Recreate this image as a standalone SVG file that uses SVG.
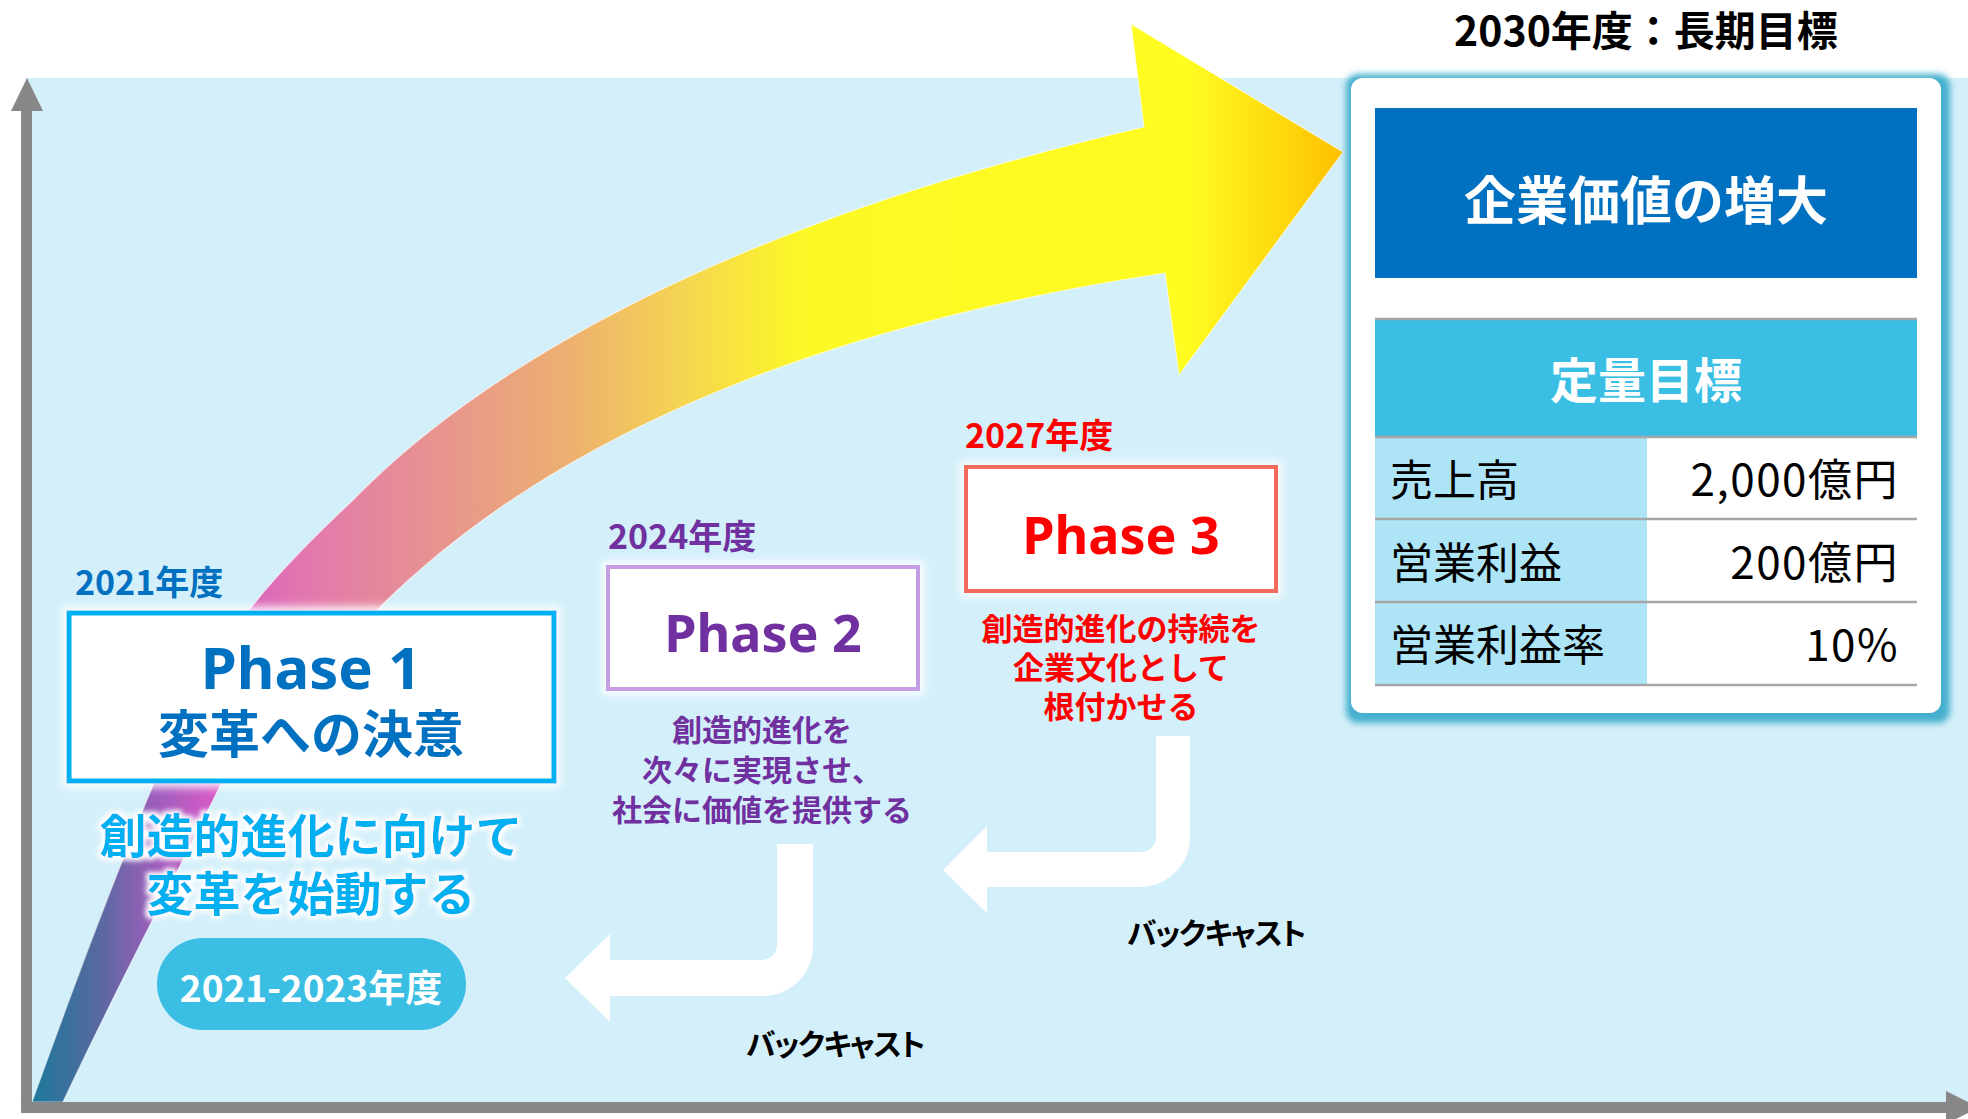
<svg xmlns="http://www.w3.org/2000/svg" width="1968" height="1119" viewBox="0 0 1968 1119">
<defs>
<style>
.jp{font-family:"Noto Sans CJK JP","Noto Sans",sans-serif}
.en{font-family:"Noto Sans","Open Sans",sans-serif;font-weight:700}
.b{font-weight:700}
.mid{text-anchor:middle}
.end{text-anchor:end}
.axis{fill:#878787}
.bent{fill:#ffffff}
.grid{stroke:#A6A6A6;stroke-width:2.5}
.td{font-size:43px;fill:#000}
.tv{font-size:44px;fill:#000;letter-spacing:1.5px}
.bc{font-size:30px;fill:#000;font-weight:700;font-feature-settings:"palt";letter-spacing:-1.5px}
</style>
<linearGradient id="grad" gradientUnits="userSpaceOnUse" x1="30" y1="0" x2="1344" y2="0">
<stop offset="0" stop-color="#1A7A9B"/>
<stop offset="0.05" stop-color="#55699F"/>
<stop offset="0.095" stop-color="#9C5EBB"/>
<stop offset="0.14" stop-color="#D65AC8"/>
<stop offset="0.21" stop-color="#E278AE"/>
<stop offset="0.32" stop-color="#E8968C"/>
<stop offset="0.41" stop-color="#EDB070"/>
<stop offset="0.5" stop-color="#F5D650"/>
<stop offset="0.59" stop-color="#FCF826"/>
<stop offset="0.88" stop-color="#FFFC20"/>
<stop offset="1" stop-color="#FDC000"/>
</linearGradient>
<filter id="glowW" x="-20%" y="-30%" width="140%" height="160%">
<feMorphology in="SourceAlpha" operator="dilate" radius="3" result="d"/>
<feGaussianBlur in="d" stdDeviation="2.5" result="bl"/>
<feFlood flood-color="#ffffff"/>
<feComposite in2="bl" operator="in" result="g"/>
<feMerge><feMergeNode in="g"/><feMergeNode in="SourceGraphic"/></feMerge>
</filter>
<filter id="boxGlow" x="-10%" y="-20%" width="120%" height="140%">
<feMorphology in="SourceAlpha" operator="dilate" radius="4" result="d"/>
<feGaussianBlur in="d" stdDeviation="4" result="bl"/>
<feFlood flood-color="#ffffff" flood-opacity="0.9"/>
<feComposite in2="bl" operator="in" result="g"/>
<feMerge><feMergeNode in="g"/><feMergeNode in="SourceGraphic"/></feMerge>
</filter>
<filter id="panelGlow" x="-10%" y="-10%" width="120%" height="120%">
<feMorphology in="SourceAlpha" operator="dilate" radius="7" result="d"/>
<feOffset in="d" dx="2" dy="3" result="o"/>
<feGaussianBlur in="o" stdDeviation="3" result="bl"/>
<feFlood flood-color="#45B0CE"/>
<feComposite in2="bl" operator="in" result="g"/>
<feMerge><feMergeNode in="g"/><feMergeNode in="SourceGraphic"/></feMerge>
</filter>
</defs>

<rect x="0" y="0" width="1968" height="1119" fill="#ffffff"/>
<rect id="plot-bg" x="27" y="78" width="1941" height="1029" fill="#D3EFF9"/>

<g id="growth-arrow">
<path d="M32,1102 C58,1030 140,800 203,675 C250,600 300,550 353,500 C470,380 700,230 1144,127 L1131,24 L1343,152 L1179,375 L1165,273 C888,315 584,407 384,603 C300,690 260,730 241,743 C200,830 130,960 63,1102 Z" fill="url(#grad)" stroke="#ffffff" stroke-opacity="0.6" stroke-width="1.2"/>
</g>

<g id="axes">
<rect class="axis" x="21" y="108" width="11" height="1005"/>
<polygon class="axis" points="27,78 43,111 11,111"/>
<rect class="axis" x="21" y="1102" width="1928" height="11" rx="3"/>
<polygon class="axis" points="1946,1091 1946,1124 1979,1107.5"/>
</g>

<g id="connectors">
<path id="backcast-3-2" class="bent" d="M1156,736 H1190 V837 A50,50 0 0 1 1140,887 H987 V913 L943,870 L987,826 V852 H1141 A15,15 0 0 0 1156,837 Z"/>
<path id="backcast-2-1" class="bent" d="M777,844 H813 V946 A50,50 0 0 1 763,996 H610 V1022 L565,978 L610,934 V960 H762 A15,15 0 0 0 777,945 Z"/>
</g>

<g id="label-backcast-a">
<text class="jp bc" x="1127" y="944">バックキャスト</text>
</g>
<g id="label-backcast-b">
<text class="jp bc" x="746" y="1055">バックキャスト</text>
</g>

<g id="phase1">
<text class="jp b" x="75" y="595" font-size="34" fill="#0070C0">2021年度</text>
<rect x="69" y="613" width="485" height="168" fill="#ffffff" stroke="#00B0F0" stroke-width="5" filter="url(#boxGlow)"/>
<text class="en mid" x="311" y="689" font-size="58" fill="#0070C0">Phase 1</text>
<text class="jp b mid" x="311" y="753" font-size="51" fill="#0070C0">変革への決意</text>
<g filter="url(#glowW)">
<text class="jp b mid" x="311" y="853" font-size="47" fill="#00B0F0">創造的進化に向けて</text>
<text class="jp b mid" x="311" y="911" font-size="47" fill="#00B0F0">変革を始動する</text>
</g>
<rect x="157" y="938" width="309" height="92" rx="46" fill="#3BBEE3"/>
<text class="jp b mid" x="311" y="1002" font-size="37" fill="#ffffff">2021-2023年度</text>
</g>

<g id="phase2">
<text class="jp b" x="608" y="549" font-size="34" fill="#7030A0">2024年度</text>
<rect x="608" y="567" width="310" height="122" fill="#ffffff" stroke="#C59DE2" stroke-width="4" filter="url(#boxGlow)"/>
<text class="en mid" x="763" y="652" font-size="52" fill="#7030A0">Phase 2</text>
<text class="jp b mid" x="762" y="741" font-size="30" fill="#7030A0">創造的進化を</text>
<text class="jp b mid" x="762" y="781" font-size="30" fill="#7030A0">次々に実現させ、</text>
<text class="jp b mid" x="762" y="821" font-size="30" fill="#7030A0">社会に価値を提供する</text>
</g>

<g id="phase3">
<text class="jp b" x="965" y="448" font-size="34" fill="#FF0000">2027年度</text>
<rect x="966" y="467" width="310" height="124" fill="#ffffff" stroke="#F26A5B" stroke-width="4" filter="url(#boxGlow)"/>
<text class="en mid" x="1121" y="554" font-size="52" fill="#FF0000">Phase 3</text>
<text class="jp b mid" x="1121" y="640" font-size="31" fill="#FF0000">創造的進化の持続を</text>
<text class="jp b mid" x="1121" y="679" font-size="31" fill="#FF0000">企業文化として</text>
<text class="jp b mid" x="1121" y="718" font-size="31" fill="#FF0000">根付かせる</text>
</g>

<g id="goal2030">
<text class="jp b mid" x="1646" y="46" font-size="41" fill="#000000">2030年度：長期目標</text>
<rect x="1351" y="78" width="590" height="635" rx="12" fill="#ffffff" filter="url(#panelGlow)"/>
<rect x="1375" y="108" width="542" height="170" fill="#0070C0"/>
<text class="jp b mid" x="1646" y="220" font-size="52" fill="#ffffff">企業価値の増大</text>
<rect x="1375" y="318" width="542" height="119" fill="#3BBEE3"/>
<line class="grid" x1="1375" y1="319" x2="1917" y2="319"/>
<text class="jp b mid" x="1646" y="398" font-size="48" fill="#ffffff">定量目標</text>
<rect x="1375" y="437" width="272" height="248" fill="#AEE5F6"/>
<line class="grid" x1="1375" y1="437" x2="1917" y2="437"/>
<line class="grid" x1="1375" y1="519" x2="1917" y2="519"/>
<line class="grid" x1="1375" y1="602" x2="1917" y2="602"/>
<line class="grid" x1="1375" y1="685" x2="1917" y2="685"/>
<text class="jp td" x="1390" y="496">売上高</text>
<text class="jp tv end" x="1899" y="496">2,000億円</text>
<text class="jp td" x="1390" y="579">営業利益</text>
<text class="jp tv end" x="1899" y="579">200億円</text>
<text class="jp td" x="1390" y="661">営業利益率</text>
<text class="jp tv end" x="1899" y="661">10%</text>
</g>
</svg>
